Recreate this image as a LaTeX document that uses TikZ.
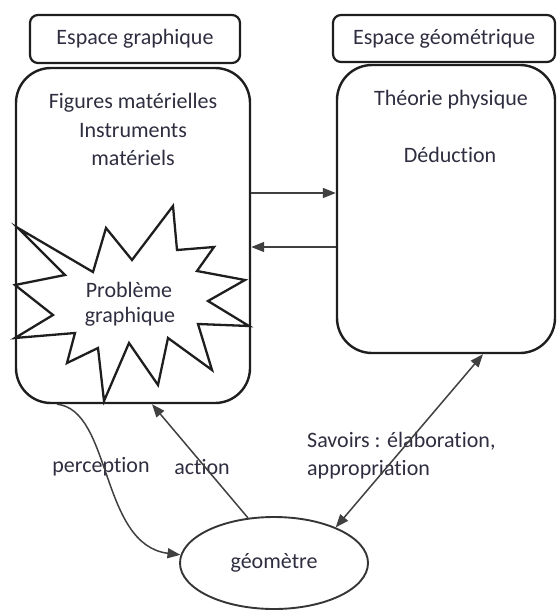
\documentclass[tikz,border=0pt]{standalone}
\usepackage{fontspec}
\setmainfont[Ligatures={NoCommon}]{Carlito}
\usetikzlibrary{arrows.meta,shapes.geometric}
\definecolor{txt}{HTML}{2E2E40}
\definecolor{ln}{HTML}{1E1E1E}
\begin{document}
\begin{tikzpicture}[x=1pt,y=-1pt,
  box/.style={draw=ln, line width=2.4pt, rounded corners=#1, inner sep=0pt},
  hdr/.style={draw=ln, line width=2.2pt, rounded corners=8pt, inner sep=0pt, text=txt, font=\fontsize{22}{28}\selectfont},
  lbl/.style={text=txt, inner sep=0pt, font=\fontsize{22}{28}\selectfont},
  starshape/.style={draw=ln, line width=2.3pt, line join=miter},
  arr/.style={draw=ln!85, line width=1.5pt, -{Triangle[length=13pt,width=10pt]}},
  dblarr/.style={draw=ln!85, line width=1.5pt, {Triangle[length=13pt,width=10pt]}-{Triangle[length=13pt,width=10pt]}},
]
\useasboundingbox (0,0) rectangle (557,610);
% headers
\node[hdr, minimum width=210pt, minimum height=48pt] (lhdr) at (135,39) {Espace graphique};
\node[hdr, minimum width=222pt, minimum height=47pt] (rhdr) at (444,38.5) {Espace géométrique};
% main boxes
\node[box=35pt, minimum width=234pt, minimum height=335pt] (lbox) at (133,235.5) {};
\node[box=35pt, minimum width=218pt, minimum height=288pt] (rbox) at (446,209) {};
% star
\draw[starshape] (15,285) -- (65,275) -- (18,228) -- (93,272) -- (106,228) -- (132,260) -- (173,206) -- (177,250) -- (214,247) -- (197,271) -- (245,280) -- (208,301) -- (249,326) -- (198,324) -- (212,370) -- (168,338) -- (158,385) -- (129,343) -- (104,401) -- (98,348) -- (67,363) -- (75,333) -- (15,338) -- (53,315) -- cycle;
% texts
\node[lbl] (t1) at (133,103) {Figures matérielles};
\node[lbl] (t2) at (133,131) {Instruments};
\node[lbl] (t3) at (133,158) {matériels};
\node[lbl] (t4) at (451,100) {Théorie physique};
\node[lbl] (t5) at (450,155) {Déduction};
\node[lbl] (t6) at (129,290) {Problème};
\node[lbl] (t7) at (130,317) {graphique};
\node[lbl] (t8) at (101,467) {perception};
\node[lbl] (t9) at (202,467) {action};
\node[lbl, anchor=west, align=left] (t10) at (307,456) {Savoirs : élaboration,\\appropriation};
% ellipse
\node[draw=ln!90, line width=1.9pt, ellipse, minimum width=188pt, minimum height=92pt, inner sep=0pt, text=txt, font=\fontsize{22}{28}\selectfont] (geo) at (274,563) {géomètre};
% helper coordinates
\coordinate (h1) at (0,193);
\coordinate (h2) at (0,247);
\coordinate (va) at (152,0);
\coordinate (vp) at (57,0);
\coordinate (vs) at (483,0);
% arrows
\draw[arr] (lbox.east |- h1) -- (rbox.west |- h1);
\draw[arr] (rbox.west |- h2) -- (lbox.east |- h2);
\draw[arr] (geo.120) -- (lbox.south -| va);
\draw[dblarr] (geo.30) -- (rbox.south -| vs);
\draw[arr] (lbox.south -| vp) .. controls (112,410) and (100,545) .. (geo.175);
\end{tikzpicture}
\end{document}
